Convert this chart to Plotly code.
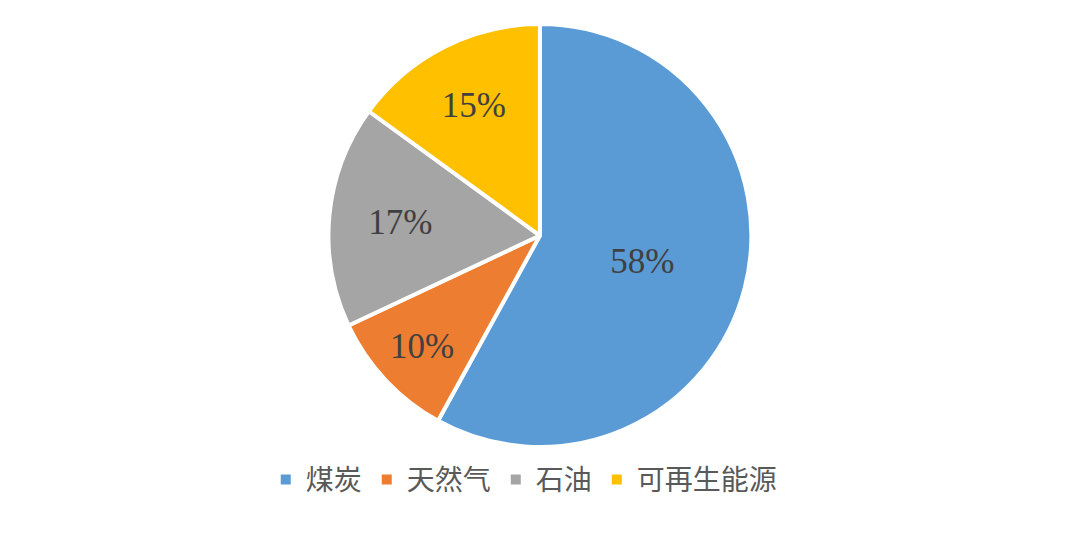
import plotly.graph_objects as go

# 能源结构占比
labels = ["煤炭", "天然气", "石油", "可再生能源"]
values = [58, 10, 17, 15]
colors = ["#5B9BD5", "#ED7D31", "#A5A5A5", "#FFC000"]

fig = go.Figure(go.Pie(
    labels=labels,
    values=values,
    sort=False,
    direction="clockwise",
    rotation=0,
    marker=dict(colors=colors, line=dict(color="white", width=4)),
    texttemplate="%{percent:.0%}",
    textposition="inside",
    insidetextorientation="horizontal",
    textfont=dict(family="Liberation Serif", size=35, color="#404040"),
    domain=dict(x=[0, 0.985], y=[0.181, 0.970]),
))

fig.update_layout(
    width=1080,
    height=536,
    margin=dict(l=0, r=0, t=0, b=0),
    paper_bgcolor="white",
    plot_bgcolor="white",
    showlegend=True,
    legend=dict(
        orientation="h",
        x=0.478, xanchor="center",
        y=0.12, yanchor="middle",
        font=dict(family="Noto Sans CJK SC", size=28, color="#595959"),
        itemsizing="constant",
    ),
    uniformtext=dict(minsize=10, mode="show"),
)

fig.write_html("out.html")
